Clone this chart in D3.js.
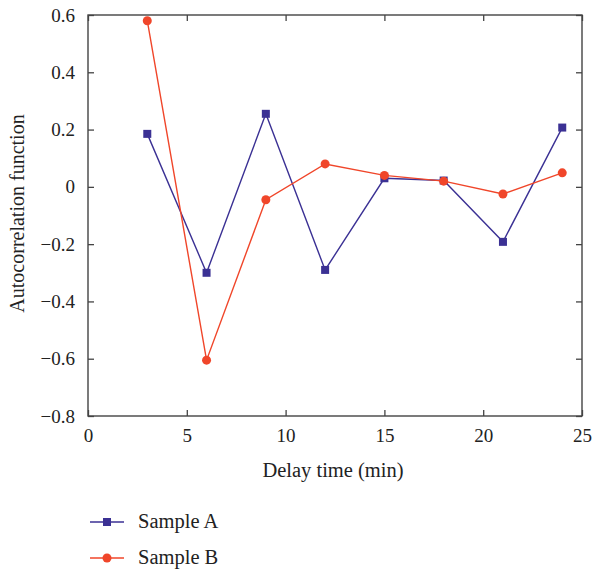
<!DOCTYPE html>
<html><head><meta charset="utf-8">
<script src="https://cdn.jsdelivr.net/npm/d3@7"></script>
<style>body{margin:0;background:#fff;}svg{display:block;} svg text{font-family:"Liberation Serif","DejaVu Serif",serif !important;}</style>
</head><body><svg id="c" width="595" height="571"></svg>
<script>
const delays = [3, 6, 9, 12, 15, 18, 21, 24];
const sampleA = [0.185, -0.30, 0.255, -0.29, 0.03, 0.022, -0.192, 0.207];
const sampleB = [0.58, -0.605, -0.045, 0.08, 0.04, 0.02, -0.025, 0.049];
const xTicks = [0, 5, 10, 15, 20, 25];
const yTicks = [-0.8, -0.6, -0.4, -0.2, 0, 0.2, 0.4, 0.6];
const seriesNames = ["Sample A", "Sample B"];
const colors = ["#3b3194", "#f0462a"];

const svg = d3.select("#c");
const L = 88, R = 582, T = 15, B = 416;
const x = d3.scaleLinear().domain([0, 25]).range([L, R]);
const y = d3.scaleLinear().domain([-0.8, 0.6]).range([B, T]);
const axisColor = "#444";
const fmt = d => d === 0 ? "0" : (d < 0 ? "\u2212" : "") + Math.abs(d).toFixed(1);

svg.append("rect").attr("x", L).attr("y", T).attr("width", R - L).attr("height", B - T)
  .attr("fill", "none").attr("stroke", axisColor).attr("stroke-width", 1.4);

function styleAxis(g) {
  g.attr("font-family", null).attr("font-size", null);
  g.select(".domain").remove();
  g.selectAll(".tick line").attr("stroke", axisColor).attr("stroke-width", 1.3);
  g.selectAll(".tick text").attr("fill", "#222").style("font-size", "19px");
}
svg.append("g").attr("transform", `translate(0,${B})`)
  .call(d3.axisBottom(x).tickValues(xTicks).tickSize(-6).tickPadding(13).tickFormat(d3.format("d")))
  .call(styleAxis);
svg.append("g").attr("transform", `translate(0,${T})`)
  .call(d3.axisTop(x).tickValues(xTicks).tickSize(-6).tickFormat(""))
  .call(styleAxis);
svg.append("g").attr("transform", `translate(${L},0)`)
  .call(d3.axisLeft(y).tickValues(yTicks).tickSize(-6).tickPadding(13).tickFormat(fmt))
  .call(styleAxis);
svg.append("g").attr("transform", `translate(${R},0)`)
  .call(d3.axisRight(y).tickValues(yTicks).tickSize(-6).tickFormat(""))
  .call(styleAxis);

svg.append("text").attr("x", 333).attr("y", 477).attr("text-anchor", "middle")
  .attr("fill", "#222").style("font-size", "20.5px").text("Delay time (min)");
svg.append("text").attr("transform", `translate(24,${(T + B) / 2 - 2}) rotate(-90)`)
  .attr("text-anchor", "middle").attr("fill", "#222").style("font-size", "20px")
  .text("Autocorrelation function");

const data = [sampleA, sampleB];
const line = d3.line().x((d, i) => x(delays[i])).y(d => y(d));
data.forEach((vals, s) => {
  svg.append("path").attr("d", line(vals)).attr("fill", "none")
    .attr("stroke", colors[s]).attr("stroke-width", 1.4);
  const g = svg.append("g");
  if (s === 0) {
    g.selectAll("rect").data(vals).join("rect")
      .attr("x", (d, i) => x(delays[i]) - 4).attr("y", d => y(d) - 4)
      .attr("width", 8).attr("height", 8).attr("fill", colors[s]);
  } else {
    g.selectAll("circle").data(vals).join("circle")
      .attr("cx", (d, i) => x(delays[i])).attr("cy", d => y(d)).attr("r", 4.5)
      .attr("fill", colors[s]);
  }
});

seriesNames.forEach((name, s) => {
  const ly = 522 + s * 36;
  const g = svg.append("g");
  g.append("line").attr("x1", 90).attr("x2", 124).attr("y1", ly).attr("y2", ly)
    .attr("stroke", colors[s]).attr("stroke-width", 1.4);
  if (s === 0) g.append("rect").attr("x", 103).attr("y", ly - 4).attr("width", 8).attr("height", 8).attr("fill", colors[s]);
  else g.append("circle").attr("cx", 107).attr("cy", ly).attr("r", 4.5).attr("fill", colors[s]);
  g.append("text").attr("x", 138).attr("y", ly + 6).attr("fill", "#222")
    .style("font-size", "20.5px").text(name);
});
</script></body></html>
